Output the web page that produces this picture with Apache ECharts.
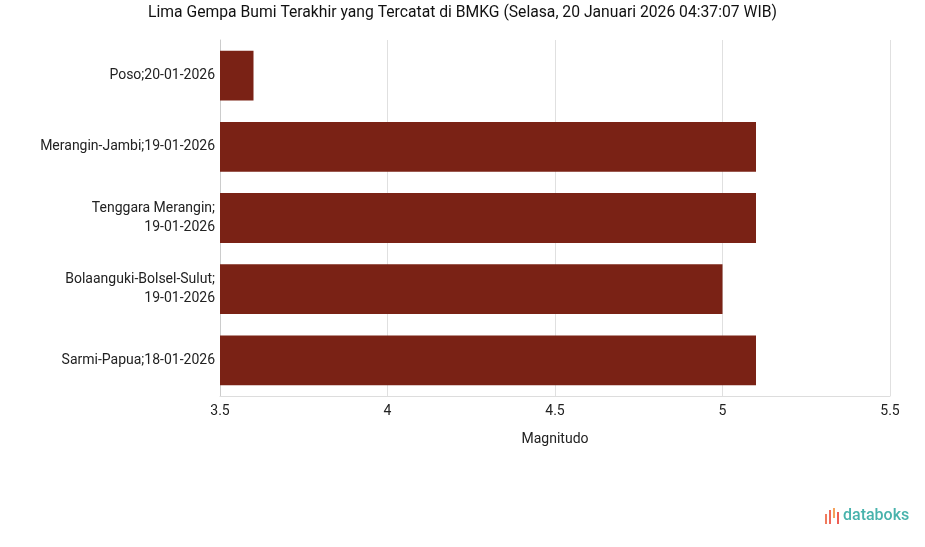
<!DOCTYPE html>
<html><head><meta charset="utf-8">
<script src="https://cdn.jsdelivr.net/npm/echarts@6/dist/echarts.min.js"></script>
<style>html,body{margin:0;padding:0;background:#fff}#c{width:925px;height:547px}</style>
</head><body><div id="c"></div>
<script>
const categories = ["Poso;20-01-2026", "Merangin-Jambi;19-01-2026", "Tenggara Merangin;\n19-01-2026", "Bolaanguki-Bolsel-Sulut;\n19-01-2026", "Sarmi-Papua;18-01-2026"];
const magnitudes = [3.6, 5.1, 5.1, 5.0, 5.1];
const xTicks = [3.5, 4, 4.5, 5, 5.5];

const chart = echarts.init(document.getElementById('c'), null, {renderer: 'canvas'});
const F = 'Roboto, "Liberation Sans", sans-serif';
chart.setOption({
  animation: false,
  textStyle: {fontFamily: F},
  title: {
    text: 'Lima Gempa Bumi Terakhir yang Tercatat di BMKG (Selasa, 20 Januari 2026 04:37:07 WIB)',
    left: 'center', top: 0,
    textStyle: {fontFamily: F, fontSize: 15.7, fontWeight: 'normal', color: '#111'}
  },
  grid: {left: 220, right: 35, top: 40, bottom: 151, containLabel: false},
  xAxis: {
    type: 'value', min: xTicks[0], max: xTicks[xTicks.length - 1], interval: 0.5,
    name: 'Magnitudo', nameLocation: 'middle', nameGap: 36,
    nameTextStyle: {fontFamily: F, fontSize: 14, color: '#222'},
    axisLine: {show: true, lineStyle: {color: '#ddd'}},
    axisTick: {show: false},
    axisLabel: {fontFamily: F, fontSize: 14, color: '#222', margin: 8},
    splitLine: {show: true, lineStyle: {color: '#e0e0e0'}}
  },
  yAxis: {
    type: 'category', data: categories, inverse: true,
    axisLine: {show: true, lineStyle: {color: '#ccc'}},
    axisTick: {show: false},
    axisLabel: {fontFamily: F, fontSize: 14, color: '#222', margin: 5, lineHeight: 19}
  },
  series: [{
    type: 'bar', data: magnitudes, barWidth: '70%',
    itemStyle: {color: '#7a2215'}
  }],
  graphic: [
    {type: 'group', left: 825, top: 508, children: [
      {type: 'rect', shape: {x: 0, y: 6, width: 2, height: 10}, style: {fill: '#f07b5c'}},
      {type: 'rect', shape: {x: 4, y: 2, width: 2, height: 14}, style: {fill: '#f0685a'}},
      {type: 'rect', shape: {x: 8, y: 0, width: 2, height: 10}, style: {fill: '#f5a25c'}},
      {type: 'rect', shape: {x: 12, y: 4, width: 2, height: 12}, style: {fill: '#ee5e55'}},
      {type: 'text', x: 18, y: 0, style: {text: 'databoks', fontFamily: F, fontSize: 16, fill: '#48b3ac', fontWeight: 500}}
    ]}
  ]
});
</script></body></html>
